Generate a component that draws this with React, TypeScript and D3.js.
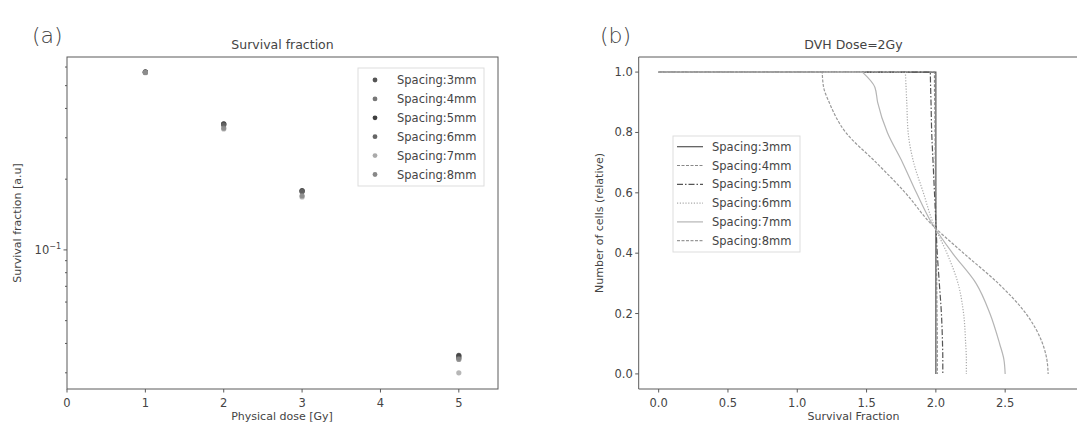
import React from 'react';
import * as d3 from 'd3';

// ---- panel (a) data ----
const doses = [1, 2, 3, 5];
const spacings = ['Spacing:3mm', 'Spacing:4mm', 'Spacing:5mm', 'Spacing:6mm', 'Spacing:7mm', 'Spacing:8mm'];
const sf3mm = [0.571, 0.343, 0.178, 0.0353];
const sf4mm = [0.570, 0.342, 0.178, 0.0349];
const sf5mm = [0.572, 0.344, 0.179, 0.0356];
const sf6mm = [0.570, 0.340, 0.177, 0.0346];
const sf7mm = [0.568, 0.327, 0.168, 0.0300];
const sf8mm = [0.569, 0.330, 0.170, 0.0342];
const survival = [sf3mm, sf4mm, sf5mm, sf6mm, sf7mm, sf8mm];
const xTicksA = [0, 1, 2, 3, 4, 5];
const minorTicksA = [0.03, 0.04, 0.05, 0.06, 0.07, 0.08, 0.09, 0.2, 0.3, 0.4, 0.5, 0.6];

// ---- panel (b) data: DVH curves, x at each cell level (after the flat start at x=0) ----
const cellLevels = [1.0, 0.95, 0.9, 0.8, 0.7, 0.6, 0.5, 0.4, 0.3, 0.2, 0.1, 0.05, 0.0];
const dvh3mm = [2.0, 2.0, 2.0, 2.0, 2.0, 2.0, 2.0, 2.0, 2.0, 2.0, 2.0, 2.0, 2.0];
const dvh4mm = [1.99, 1.99, 1.992, 1.994, 1.996, 1.998, 2.0, 2.003, 2.006, 2.008, 2.01, 2.01, 2.01];
const dvh5mm = [1.96, 1.962, 1.965, 1.97, 1.98, 1.99, 2.0, 2.01, 2.025, 2.04, 2.048, 2.05, 2.05];
const dvh6mm = [1.78, 1.785, 1.79, 1.80, 1.84, 1.91, 1.98, 2.08, 2.16, 2.20, 2.215, 2.22, 2.22];
const dvh7mm = [1.47, 1.56, 1.58, 1.65, 1.76, 1.86, 1.97, 2.12, 2.29, 2.39, 2.46, 2.49, 2.50];
const dvh8mm = [1.18, 1.19, 1.23, 1.35, 1.57, 1.78, 1.96, 2.2, 2.45, 2.65, 2.77, 2.80, 2.81];
const dvhCurves = [dvh3mm, dvh4mm, dvh5mm, dvh6mm, dvh7mm, dvh8mm];
const dvhStart = 0;
const xTicksB = [0, 0.5, 1.0, 1.5, 2.0, 2.5];
const yTicksB = [0, 0.2, 0.4, 0.6, 0.8, 1.0];

const markerColors = ['#555', '#777', '#3f3f3f', '#666', '#aaa', '#888'];
const lineColors = ['#555', '#888', '#555', '#aaa', '#b5b5b5', '#999'];
const dashes = ['none', '3,1.5', '6,2,1.5,2', '1.2,1.6', 'none', '3,1.5'];

const FONT = 'DejaVu Sans, sans-serif';
const TXT = '#444';
const AX = '#5a5a5a';

export default function App() {
  // panel (a)
  const top = 57, bottom = 389;
  const xA = d3.scaleLinear().domain([0, 5.5]).range([67, 498]);
  const yA = d3.scaleLog().domain([0.0256, 0.662]).range([bottom, top]);

  // panel (b)
  const xB = d3.scaleLinear().domain([-0.144, 3.05]).range([638.7, 1081.4]);
  const yB = d3.scaleLinear().domain([-0.05, 1.05]).range([bottom, top]);
  const line = d3.line<number>()
    .x(d => xB(d))
    .y((_, i) => yB(cellLevels[i]))
    .curve(d3.curveMonotoneY);

  const curvePath = (c: number[]) => {
    const d = line(c) || '';
    // flat part from x=0 at full cell count, then the falling curve
    return `M${xB(dvhStart)},${yB(cellLevels[0])}L${d.slice(1)}`;
  };

  return (
    <svg width={1077} height={426} style={{ position: 'absolute', left: 0, top: 0, background: '#fff' }}
      fontFamily={FONT}>
      <rect width={1077} height={426} fill="#fff" />

      {/* ===== (a) ===== */}
      <text x={32} y={43} fontSize={22} fill={TXT} fontWeight={300}>(a)</text>
      <text x={(xA.range()[0] + xA.range()[1]) / 2} y={49} fontSize={12.5} fill={TXT} textAnchor="middle">Survival fraction</text>

      {survival.map((s, si) => (
        <g key={si}>
          {s.map((v, i) => (
            <circle key={i} cx={xA(doses[i])} cy={yA(v)} r={2.6} fill={markerColors[si]} opacity={0.85} />
          ))}
        </g>
      ))}

      <rect x={xA.range()[0]} y={top} width={xA.range()[1] - xA.range()[0]} height={bottom - top}
        fill="none" stroke={AX} strokeWidth={1} />

      {xTicksA.map(t => (
        <g key={t} transform={`translate(${xA(t)},${bottom})`}>
          <line y2={3.5} stroke={AX} />
          <text y={18} fontSize={11.5} fill={TXT} textAnchor="middle">{t}</text>
        </g>
      ))}
      <g transform={`translate(${xA.range()[0]},${yA(0.1)})`}>
        <line x2={-3.5} stroke={AX} />
        <text x={-6} y={4} fontSize={11.5} fill={TXT} textAnchor="end">10<tspan dy={-5} fontSize={8}>−1</tspan></text>
      </g>
      {minorTicksA.map(t => (
        <line key={t} x1={xA.range()[0]} x2={xA.range()[0] - 2} y1={yA(t)} y2={yA(t)} stroke={AX} />
      ))}
      <text x={282} y={420} fontSize={11} fill={TXT} textAnchor="middle">Physical dose [Gy]</text>
      <text transform={`translate(21,223) rotate(-90)`} fontSize={11} fill={TXT} textAnchor="middle">Survival fraction [a.u]</text>

      <rect x={358} y={68} width={126} height={118} fill="#fff" stroke="#ddd" strokeWidth={1} />
      {spacings.map((s, i) => (
        <g key={s} transform={`translate(0,${80 + i * 18.9})`}>
          <circle cx={375} cy={0} r={2.4} fill={markerColors[i]} />
          <text x={397} y={4} fontSize={11.5} fill={TXT}>{s}</text>
        </g>
      ))}

      {/* ===== (b) ===== */}
      <text x={600} y={43} fontSize={22} fill={TXT} fontWeight={300}>(b)</text>
      <text x={853.5} y={49} fontSize={12.5} fill={TXT} textAnchor="middle">DVH Dose=2Gy</text>

      {dvhCurves.map((c, i) => (
        <path key={i} d={curvePath(c)} fill="none" stroke={lineColors[i]} strokeWidth={1.2}
          strokeDasharray={dashes[i]} />
      ))}

      <path d={`M${xB.range()[1]},${top}H${xB.range()[0]}V${bottom}H${xB.range()[1]}`} fill="none" stroke={AX} />
      {xTicksB.map(t => (
        <g key={t} transform={`translate(${xB(t)},${bottom})`}>
          <line y2={3.5} stroke={AX} />
          <text y={18} fontSize={11.5} fill={TXT} textAnchor="middle">{t.toFixed(1)}</text>
        </g>
      ))}
      {yTicksB.map(t => (
        <g key={t} transform={`translate(${xB.range()[0]},${yB(t)})`}>
          <line x2={-3.5} stroke={AX} />
          <text x={-6} y={4} fontSize={11.5} fill={TXT} textAnchor="end">{t.toFixed(1)}</text>
        </g>
      ))}
      <text x={853.5} y={420} fontSize={11} fill={TXT} textAnchor="middle">Survival Fraction</text>
      <text transform={`translate(603,223) rotate(-90)`} fontSize={11} fill={TXT} textAnchor="middle">Number of cells (relative)</text>

      <rect x={673} y={136} width={127} height={116} fill="#fff" stroke="#ddd" strokeWidth={1} />
      {spacings.map((s, i) => (
        <g key={s} transform={`translate(0,${146.7 + i * 18.8})`}>
          <line x1={677} x2={703} y1={0} y2={0} stroke={lineColors[i]} strokeWidth={1.2} strokeDasharray={dashes[i]} />
          <text x={712} y={4} fontSize={11.5} fill={TXT}>{s}</text>
        </g>
      ))}
    </svg>
  );
}
